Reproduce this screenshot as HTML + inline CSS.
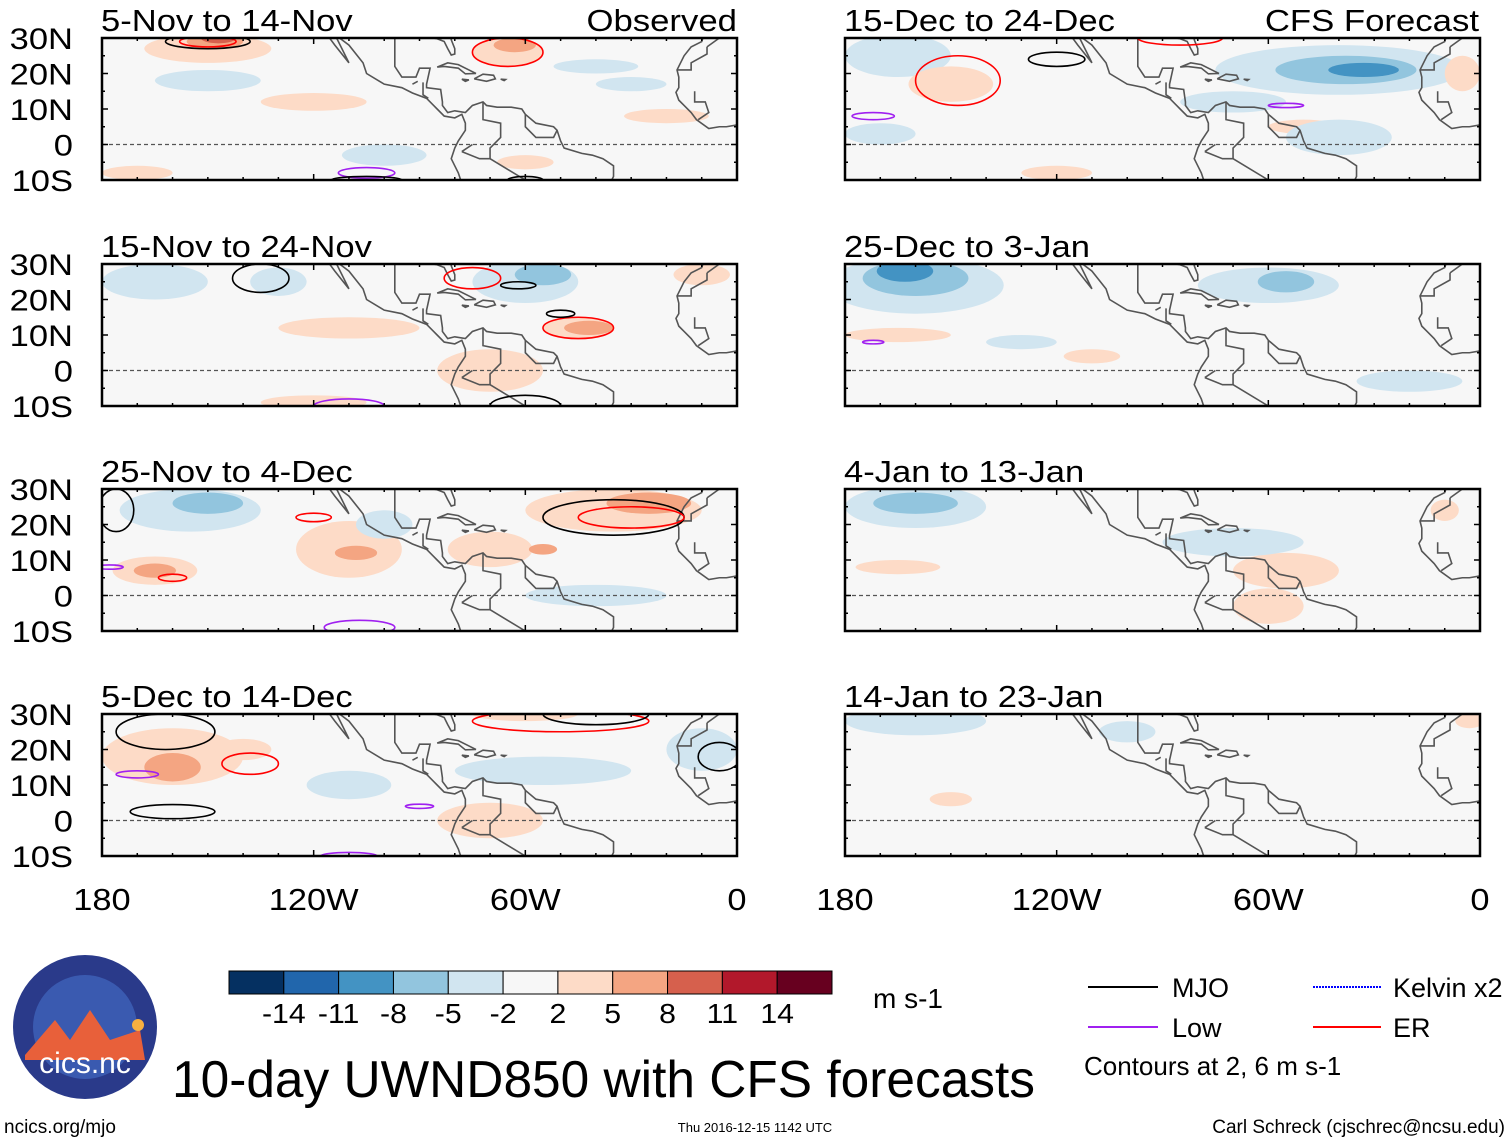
<!DOCTYPE html>
<html><head><meta charset="utf-8"><style>
body{margin:0;background:#fff;width:1510px;height:1142px;overflow:hidden;font-family:"Liberation Sans",sans-serif}
svg text{font-family:"Liberation Sans",sans-serif}
</style></head><body>
<svg id="c" width="1510" height="1142" viewBox="0 0 1510 1142" xmlns="http://www.w3.org/2000/svg"></svg>
<script>
const panelTitles=["5-Nov to 14-Nov","15-Nov to 24-Nov","25-Nov to 4-Dec","5-Dec to 14-Dec","15-Dec to 24-Dec","25-Dec to 3-Jan","4-Jan to 13-Jan","14-Jan to 23-Jan"];
const latTicks=["30N","20N","10N","0","10S"];
const latValues=[30,20,10,0,-10];
const lonTicks=["180","120W","60W","0"];
const lonValues=[-180,-120,-60,0];
const levelColors={"-3":"#4393c3","-2":"#92c5de","-1":"#d1e5f0","1":"#fddbc7","2":"#f4a582","3":"#d6604d"};
const cbarColors=["#053061","#2166ac","#4393c3","#92c5de","#d1e5f0","#f7f7f7","#fddbc7","#f4a582","#d6604d","#b2182b","#67001f"];
const cbarLabels=["-14","-11","-8","-5","-2","2","5","8","11","14"];
// anomaly blobs: [lon, lat, rlon, rlat, level]
const blobs0=[[-150,27,18,4,1],[-148,29,8,2,2],[-147,30,5,1.5,3],[-65,26,10,4,1],[-63,28,6,2,2],[-120,12,15,2.5,1],[-40,22,12,2,-1],[-150,18,15,3,-1],[-30,17,10,2,-1],[-20,8,12,2,1],[-170,-8,10,2,1],[-100,-3,12,3,-1],[-60,-5,8,2,1]];
const blobs1=[[-165,25,15,5,-1],[-60,25,15,6,-1],[-55,27,8,3,-2],[-45,12,10,3,1],[-42,12,7,2,2],[-110,12,20,3,1],[-70,0,15,6,1],[-120,-9,15,2,1],[-10,27,8,3,1],[-130,25,8,4,-1]];
const blobs2=[[-155,24,20,6,-1],[-150,26,10,3,-2],[-110,13,15,8,1],[-108,12,6,2,2],[-165,7,12,4,1],[-165,7,6,2,2],[-35,24,25,6,1],[-25,26,12,3,2],[-70,13,12,5,1],[-40,0,20,3,-1],[-100,20,8,4,-1],[-55,13,4,1.5,2]];
const blobs3=[[-160,18,20,8,1],[-160,15,8,4,2],[-110,10,12,4,-1],[-55,14,25,4,-1],[-60,30,15,2,1],[-10,20,10,6,-1],[-70,0,15,5,1],[-140,20,8,3,1]];
const blobs4=[[-165,25,15,6,-1],[-40,21,35,7,-1],[-38,21,20,4,-2],[-33,21,10,2,-3],[-150,17,12,5,1],[-70,12,15,3,-1],[-50,5,10,2,1],[-40,2,15,5,-1],[-170,3,10,3,-1],[-5,20,5,5,1],[-120,-8,10,2,1]];
const blobs5=[[-160,24,25,8,-1],[-160,26,15,5,-2],[-163,28,8,3,-3],[-60,24,20,5,-1],[-55,25,8,3,-2],[-165,10,15,2,1],[-130,8,10,2,-1],[-110,4,8,2,1],[-20,-3,15,3,-1]];
const blobs6=[[-160,25,20,6,-1],[-160,26,12,3,-2],[-165,8,12,2,1],[-55,7,15,5,1],[-60,-3,10,5,1],[-10,24,4,3,1],[-70,15,20,4,-1]];
const blobs7=[[-160,28,20,4,-1],[-150,6,6,2,1],[-100,25,8,3,-1],[-3,28,4,2,1]];
// contours: [lon, lat, rlon, rlat, type] 0=MJO 1=Low 2=ER
const cont0=[[-150,29,12,2,0],[-150,29,8,1.5,2],[-65,26,10,4,2],[-105,-8,8,1.5,1],[-105,-10,10,1,0],[-60,-10,5,1,0]];
const cont1=[[-135,26,8,4,0],[-75,26,8,3,2],[-62,24,5,1,0],[-45,12,10,3,2],[-110,-10,10,2,1],[-60,-10,10,3,0],[-50,16,4,1,0]];
const cont2=[[-176,24,5,6,0],[-120,22,5,1.2,2],[-35,22,20,5,0],[-30,22,15,3,2],[-178,8,4,0.6,1],[-160,5,4,1,2],[-107,-9,10,2,1]];
const cont3=[[-162,25,14,5,0],[-138,16,8,3,2],[-90,4,4,0.6,1],[-160,2.5,12,2,0],[-170,13,6,1,1],[-50,28,25,3,2],[-40,30,15,3,0],[-5,18,6,4,0],[-110,-10,8,1,1]];
const cont4=[[-148,18,12,7,2],[-120,24,8,2,0],[-55,11,5,0.6,1],[-172,8,6,1,1],[-85,30,12,2,2]];
const cont5=[[-172,8,3,0.5,1]];
const cont6=[];
const cont7=[];
const allBlobs=[blobs0,blobs1,blobs2,blobs3,blobs4,blobs5,blobs6,blobs7];
const allCont=[cont0,cont1,cont2,cont3,cont4,cont5,cont6,cont7];
const contColors=["#000","#a020f0","#f00"];
const coasts=[
[[-117,32],[-114,28],[-110,23],[-112,27],[-114,31],[-110,28],[-106,23],[-105,20],[-100,17],[-95,16],[-92,14.5],[-88,13],[-86,11],[-85,10],[-83,8],[-80,7.5],[-78,8.5],[-77,6],[-77,4],[-79,1],[-80,-1],[-81,-4],[-80,-6],[-79,-8],[-78,-11]],
[[-97,30],[-97,26],[-97,22],[-95,19],[-91,19],[-90,21.5],[-87,21.5],[-88,17],[-88,16],[-84,15.5],[-83.5,12],[-83.5,11],[-82,9],[-80,9.5],[-77,9],[-76,10],[-75,11],[-72,12],[-71,11],[-68,10.5],[-64,10.5],[-61,10],[-60,8.5],[-57,6],[-52,5],[-51,4],[-50,1],[-49,-1],[-44,-2.5],[-41,-3],[-38,-4],[-35,-6],[-35,-9],[-36,-11]],
[[-89,30.5],[-85,29.8],[-83,29],[-82,27],[-81,25.2],[-80,25.5],[-80,27],[-81,29.5],[-81,31]],
[[-85,21.8],[-82,23],[-79,22.5],[-76,21],[-74,20],[-77,19.9],[-79,21.5],[-83,22],[-85,21.8]],
[[-74.5,18.5],[-72,19.8],[-69,19.5],[-68.5,18.5],[-71,17.8],[-74.5,18.5]],
[[-78,18.4],[-76,18.2],[-77,17.8],[-78,18.4]],
[[-67,18.4],[-65.6,18.3],[-66,18],[-67,18.4]],
[[-9.5,30.5],[-10,29],[-13,27.5],[-15,25],[-17,21],[-16.5,19],[-16.5,16],[-17.3,14.7],[-16.5,12.5],[-15,11],[-13,9],[-11.5,7],[-8,4.5],[-5,5],[-3,5],[0,5.5],[1,6]],
[[-17,21],[-13,21],[-13,23],[-8.5,25.5],[-8.5,27.5]],[[-12,15],[-12,12],[-9,12],[-8,9],[-11,7]],[[-8.5,27.5],[-5,30]],
[[-89,17.5],[-89,14],[-87.5,13]],[[-92,17],[-90.5,17.8]],[[-72,12],[-72,7],[-67,6],[-67,2],[-70,-1],[-70,-4],[-73,-4],[-78,-2]],[[-60,8.5],[-60,5],[-57,2],[-52,2],[-51,4]],[[-70,-4],[-60,-10]],[[-78,-2],[-75,0]]
];
const svg=document.getElementById('c');
const NS="http://www.w3.org/2000/svg";
function mk(t,a,p){const e=document.createElementNS(NS,t);for(const k in a)e.setAttribute(k,a[k]);(p||svg).appendChild(e);return e;}
function stretch(t,f){const w=t.getComputedTextLength();t.setAttribute('textLength',w*f);t.setAttribute('lengthAdjust','spacingAndGlyphs');}
const tops=[38,264,489,714], lefts=[102,845], W=635, H=142;
function xs(lon,left){return left+(lon+180)*W/180;}
function ys(lat,top){return top+(30-lat)*H/40;}
let defs=mk('defs',{});
for(let p=0;p<8;p++){
  const left=lefts[p<4?0:1], top=tops[p%4];
  const g=mk('g',{});
  
  
  const cp=mk('clipPath',{id:'cp'+p},defs);mk('rect',{x:left,y:top,width:W,height:H},cp);
  mk('rect',{x:left,y:top,width:W,height:H,fill:'#f7f7f7'},g);
  const inner=mk('g',{'clip-path':'url(#cp'+p+')'},g);
  const order=[...allBlobs[p]].sort((a,b)=>Math.abs(a[4])-Math.abs(b[4]));
  for(const b of order){
    const e=mk('ellipse',{cx:xs(b[0],left),cy:ys(b[1],top),rx:b[2]*W/180,ry:b[3]*H/40,fill:levelColors[b[4]]},inner);
    
    
  }
  for(const c of coasts){
    mk('polyline',{points:c.map(q=>xs(q[0],left)+','+ys(q[1],top)).join(' '),fill:'none',stroke:'#555','stroke-width':1.6},inner);
  }
  for(const c of allCont[p]){
    const e=mk('ellipse',{cx:xs(c[0],left),cy:ys(c[1],top),rx:c[2]*W/180,ry:c[3]*H/40,fill:'none',stroke:contColors[c[4]],'stroke-width':1.6},inner);
    
    
  }
  mk('line',{x1:left,x2:left+W,y1:ys(0,top),y2:ys(0,top),stroke:'#555','stroke-dasharray':'4,3','stroke-width':1.2},g);
  mk('rect',{x:left,y:top,width:W,height:H,fill:'none',stroke:'#000','stroke-width':2.5},g);
  for(let l=-180;l<=0;l+=10){const x=xs(l,left),len=l%60==0?6:3;
    mk('line',{x1:x,x2:x,y1:top,y2:top+len,stroke:'#000','stroke-width':1.5},g);
    mk('line',{x1:x,x2:x,y1:top+H,y2:top+H-len,stroke:'#000','stroke-width':1.5},g);}
  for(let la=-10;la<=30;la+=5){const y=ys(la,top),len=la%10==0?6:3;
    mk('line',{x1:left,x2:left+len,y1:y,y2:y,stroke:'#000','stroke-width':1.5},g);
    mk('line',{x1:left+W,x2:left+W-len,y1:y,y2:y,stroke:'#000','stroke-width':1.5},g);}
  const t=mk('text',{x:left-1,y:top-7,'font-size':31},g);t.textContent=panelTitles[p];
  
  
  stretch(t,1.115);
  if(p<4){latTicks.forEach((s,i)=>{const tt=mk('text',{x:73,y:ys(latValues[i],top)+11,'font-size':30,'text-anchor':'end'},g);tt.textContent=s;
    
    
    stretch(tt,1.15);});}
}
const tr1=mk('text',{x:737,y:31,'font-size':31,'text-anchor':'end'});tr1.textContent="Observed";


stretch(tr1,1.12);
const tr2=mk('text',{x:1479,y:31,'font-size':31,'text-anchor':'end'});tr2.textContent="CFS Forecast";


stretch(tr2,1.12);
lefts.forEach(left=>lonTicks.forEach((s,i)=>{const t=mk('text',{x:xs(lonValues[i],left),y:910,'font-size':31,'text-anchor':'middle'});t.textContent=s;
  
  
  stretch(t,1.11);}));
// colorbar
const cbw=(832-229)/11;
cbarColors.forEach((c,i)=>{const r=mk('rect',{x:229+i*cbw,y:971,width:cbw,height:23,fill:c,stroke:'#000','stroke-width':1});
  
  });
cbarLabels.forEach((s,i)=>{const t=mk('text',{x:229+(i+1)*cbw,y:1023,'font-size':28,'text-anchor':'middle'});t.textContent=s;
  
  
  stretch(t,1.08);});
</script>
<svg style="position:absolute;left:0;top:0" width="1510" height="1142">
<text x="873" y="1008" font-size="28">m s-1</text>
<g>
<line x1="1088" x2="1158" y1="987" y2="987" stroke="#000" stroke-width="2"/><text x="1172" y="997" font-size="27">MJO</text>
<line x1="1088" x2="1158" y1="1027" y2="1027" stroke="#a020f0" stroke-width="2"/><text x="1172" y="1037" font-size="27">Low</text>
<line x1="1313" x2="1381" y1="987" y2="987" stroke="#00f" stroke-width="2" stroke-dasharray="2,1"/><text x="1393" y="997" font-size="27">Kelvin x2</text>
<line x1="1313" x2="1381" y1="1027" y2="1027" stroke="#f00" stroke-width="2"/><text x="1393" y="1037" font-size="27">ER</text>
<text x="1084" y="1075" font-size="26">Contours at 2, 6 m s-1</text>
</g>
<text x="172" y="1097" font-size="52" textLength="863" lengthAdjust="spacingAndGlyphs">10-day UWND850 with CFS forecasts</text>
<g>
<circle cx="85" cy="1027" r="72" fill="#2a3a8a"/>
<circle cx="85" cy="1027" r="52" fill="#3a5ab0"/>
<path d="M25 1055 L55 1020 L70 1040 L90 1010 L110 1040 L140 1030 L145 1060 L25 1060Z" fill="#e8603a"/>
<circle cx="138" cy="1025" r="6" fill="#f8b040"/>
<text x="85" y="1073" font-size="30" fill="#fff" text-anchor="middle">cics.nc</text>
</g>
<text x="4" y="1133" font-size="19">ncics.org/mjo</text>
<text x="755" y="1132" font-size="13" text-anchor="middle">Thu 2016-12-15 1142 UTC</text>
<text x="1505" y="1133" font-size="19" text-anchor="end">Carl Schreck (cjschrec@ncsu.edu)</text>
</svg>
</body></html>
